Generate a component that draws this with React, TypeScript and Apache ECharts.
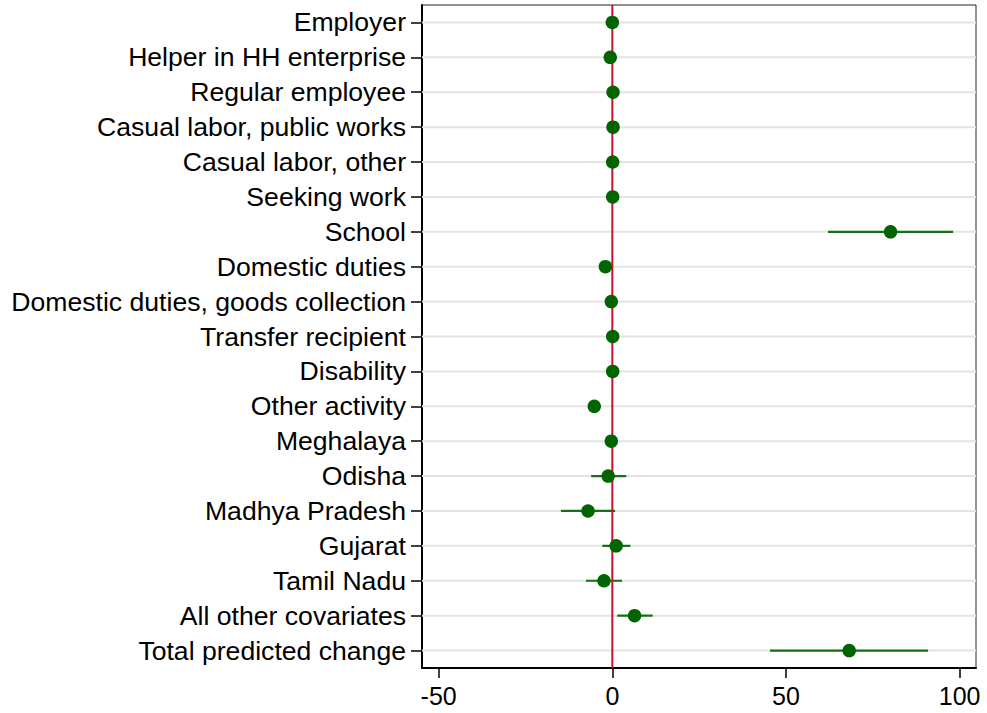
import React, { useEffect, useRef } from "react";
import * as echarts from "echarts";

// Row labels, top to bottom
const categories = [
  "Employer",
  "Helper in HH enterprise",
  "Regular employee",
  "Casual labor, public works",
  "Casual labor, other",
  "Seeking work",
  "School",
  "Domestic duties",
  "Domestic duties, goods collection",
  "Transfer recipient",
  "Disability",
  "Other activity",
  "Meghalaya",
  "Odisha",
  "Madhya Pradesh",
  "Gujarat",
  "Tamil Nadu",
  "All other covariates",
  "Total predicted change",
];

// Point estimates
const estimates = [
  0.0, -0.6, 0.2, 0.2, 0.1, 0.1, 80.1, -2.0, -0.3, 0.1, 0.1, -5.2, -0.3, -1.2,
  -7.0, 1.1, -2.4, 6.4, 68.2,
];

// Confidence interval bounds
const lower = [
  -0.4, -1.0, -0.2, -0.2, -0.3, -0.3, 62.1, -2.6, -0.8, -0.3, -0.3, -5.8, -0.8,
  -6.1, -14.8, -2.9, -7.6, 1.4, 45.4,
];
const upper = [
  0.4, -0.2, 0.6, 0.6, 0.5, 0.5, 98.1, -1.4, 0.2, 0.5, 0.5, -4.6, 0.2, 4.0,
  0.8, 5.2, 2.8, 11.6, 90.9,
];

const xTicks = [-50, 0, 50, 100];

export default function App() {
  const ref = useRef<HTMLDivElement>(null);

  useEffect(() => {
    if (!ref.current) return;
    const chart = echarts.init(ref.current, null, { renderer: "svg" });
    const rowIdx = categories.map((_, i) => i);
    const font = "'Liberation Sans', Arial, Helvetica, sans-serif";

    chart.setOption({
      animation: false,
      backgroundColor: "#ffffff",
      grid: {
        left: 422,
        right: 11,
        top: 5,
        bottom: 45,
        show: true,
        borderColor: "#222",
        borderWidth: 1,
        backgroundColor: "transparent",
      },
      xAxis: {
        type: "value",
        min: -54.8,
        max: 104.7,
        axisLine: { show: true, onZero: false, lineStyle: { color: "#000", width: 2 } },
        axisTick: {
          show: true,
          length: 10,
          customValues: xTicks,
          lineStyle: { color: "#000", width: 1.5 },
        },
        axisLabel: {
          customValues: xTicks,
          color: "#000",
          fontFamily: font,
          fontSize: 25,
          margin: 15,
        },
        splitLine: { show: false },
      },
      yAxis: {
        type: "value",
        inverse: true,
        min: -0.5,
        max: 18.5,
        axisLine: { show: true, onZero: false, lineStyle: { color: "#000", width: 2 } },
        axisTick: {
          show: true,
          length: 11,
          customValues: rowIdx,
          lineStyle: { color: "#000", width: 1.5 },
        },
        axisLabel: {
          customValues: rowIdx,
          formatter: (v: number) => categories[Math.round(v)] ?? "",
          color: "#000",
          fontFamily: font,
          fontSize: 26.6,
          margin: 16,
        },
        splitLine: { show: false },
      },
      series: [
        {
          // horizontal row guides
          type: "custom",
          z: 1,
          silent: true,
          data: rowIdx.map((i) => [0, i]),
          encode: { x: 0, y: 1 },
          renderItem: (params: any, api: any) => {
            const cs = params.coordSys;
            const y = api.coord([0, api.value(1)])[1];
            return {
              type: "line",
              shape: { x1: cs.x, y1: y, x2: cs.x + cs.width, y2: y },
              style: { stroke: "#e3e3e3", lineWidth: 2 },
            };
          },
        },
        {
          // confidence intervals
          type: "custom",
          z: 2,
          silent: true,
          data: rowIdx.map((i) => [lower[i], upper[i], i]),
          encode: { x: [0, 1], y: 2 },
          renderItem: (_params: any, api: any) => {
            const a = api.coord([api.value(0), api.value(2)]);
            const b = api.coord([api.value(1), api.value(2)]);
            return {
              type: "line",
              shape: { x1: a[0], y1: a[1], x2: b[0], y2: b[1] },
              style: { stroke: "#127312", lineWidth: 2.2 },
            };
          },
        },
        {
          // zero reference line
          type: "custom",
          z: 3,
          silent: true,
          data: [[0, 0]],
          encode: { x: 0, y: 1 },
          renderItem: (params: any, api: any) => {
            const cs = params.coordSys;
            const x = api.coord([0, 0])[0];
            return {
              type: "line",
              shape: { x1: x, y1: cs.y, x2: x, y2: cs.y + cs.height },
              style: { stroke: "#c8102e", lineWidth: 2 },
            };
          },
        },
        {
          type: "scatter",
          z: 4,
          symbol: "circle",
          symbolSize: 13.5,
          itemStyle: { color: "#006400", opacity: 1 },
          data: estimates.map((v, i) => [v, i]),
        },
      ],
    });

    return () => chart.dispose();
  }, []);

  return (
    <div
      ref={ref}
      style={{ position: "fixed", left: 0, top: 0, width: 987, height: 713 }}
    />
  );
}
